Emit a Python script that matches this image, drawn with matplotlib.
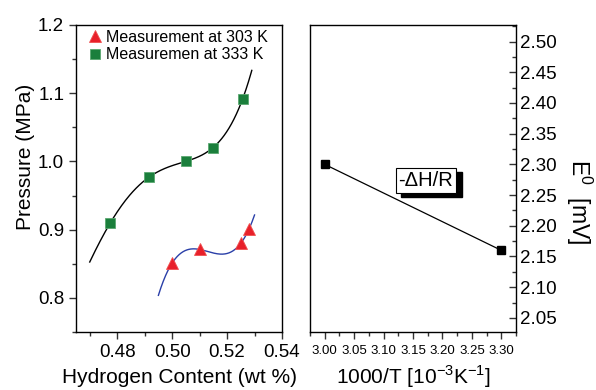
import numpy as np
import matplotlib
matplotlib.use('Agg')
import matplotlib.pyplot as plt
from matplotlib.ticker import MultipleLocator, FormatStrFormatter

plt.rcParams['font.family'] = ['Liberation Sans', 'DejaVu Sans']
plt.rcParams['mathtext.fontset'] = 'custom'
plt.rcParams['mathtext.rm'] = 'Liberation Sans'

# Isotermas (pressao x teor de hidrogenio)
h_303 = [0.500, 0.510, 0.525, 0.528]
p_303 = [0.851, 0.871, 0.880, 0.901]
h_333 = [0.4775, 0.4916, 0.5049, 0.5148, 0.5257]
p_333 = [0.910, 0.977, 1.000, 1.020, 1.092]

# Faixas e graus dos ajustes polinomiais
faixa_303 = (0.495, 0.530)
faixa_333 = (0.470, 0.529)
grau_303 = 3
grau_333 = 4

# Potencial E0 x 1000/T
inv_t = [3.00, 3.30]
e0 = [2.300, 2.160]

fig = plt.figure(figsize=(5.96, 3.90), dpi=100)
ax1 = fig.add_axes([76 / 596, 58 / 390, 206 / 596, 307 / 390])
ax2 = fig.add_axes([310 / 596, 58 / 390, 206 / 596, 307 / 390])

# --- grafico da esquerda ---
for hx, py, faixa, grau, cor in [(h_333, p_333, faixa_333, grau_333, 'black'),
                                 (h_303, p_303, faixa_303, grau_303, '#2a3fa8')]:
    coef = np.polyfit(hx, py, grau)
    xs = np.linspace(faixa[0], faixa[1], 200)
    ax1.plot(xs, np.polyval(coef, xs), color=cor, lw=1.0, zorder=2)

ax1.plot(h_303, p_303, '^', color='#e8202a', ms=8.5, mec='#f05050', mew=0.6,
         ls='none', label='Measurement at 303 K', zorder=3)
ax1.plot(h_333, p_333, 's', color='#1b7f3c', ms=6.5, mec='#5aa870', mew=0.6,
         ls='none', label='Measuremen at 333 K', zorder=3)

ax1.set_xlim(0.465, 0.54)
ax1.set_ylim(0.75, 1.2)
ax1.xaxis.set_major_locator(MultipleLocator(0.02))
ax1.xaxis.set_minor_locator(MultipleLocator(0.01))
ax1.yaxis.set_major_locator(MultipleLocator(0.1))
ax1.yaxis.set_minor_locator(MultipleLocator(0.05))
ax1.xaxis.set_major_formatter(FormatStrFormatter('%.2f'))
ax1.yaxis.set_major_formatter(FormatStrFormatter('%.1f'))
ax1.tick_params(which='both', direction='out', top=False, right=False,
                labelsize=13.5, color='#333333')
ax1.tick_params(which='major', length=5, width=1)
ax1.tick_params(which='minor', length=3, width=1)
ax1.set_xlabel('Hydrogen Content (wt %)', fontsize=15, labelpad=5)
ax1.set_ylabel('Pressure (MPa)', fontsize=15)
ax1.yaxis.set_label_coords(-0.2, 0.57)
ax1.legend(loc='upper left', frameon=False, fontsize=11.5, handletextpad=0.1,
           handlelength=1.2, borderaxespad=0.2, labelspacing=0.15,
           bbox_to_anchor=(0.0, 1.015))

# --- grafico da direita ---
ax2.plot(inv_t, e0, color='black', lw=0.9, marker='s', ms=5.5)
ax2.set_xlim(2.975, 3.325)
ax2.set_ylim(2.027, 2.527)
ax2.xaxis.set_major_locator(MultipleLocator(0.05))
ax2.xaxis.set_minor_locator(MultipleLocator(0.025))
ax2.yaxis.set_major_locator(MultipleLocator(0.05))
ax2.yaxis.set_minor_locator(MultipleLocator(0.025))
ax2.xaxis.set_major_formatter(FormatStrFormatter('%.2f'))
ax2.yaxis.set_major_formatter(FormatStrFormatter('%.2f'))
ax2.yaxis.tick_right()
ax2.yaxis.set_label_position('right')
ax2.tick_params(axis='x', which='both', direction='out', labelsize=9.5,
                color='#333333', pad=4)
ax2.tick_params(axis='y', which='both', direction='in', left=False,
                right=True, labelsize=13.5, color='#333333', pad=3)
ax2.tick_params(which='major', length=5, width=1)
ax2.tick_params(which='minor', length=3, width=1)
ax2.set_xlabel(r'1000/T [10$^{-3}$K$^{-1}$]', fontsize=15, labelpad=5)
ax2.set_ylabel(r'E$^0$  [mV]', fontsize=16.5, rotation=-90)
ax2.yaxis.set_label_coords(1.379, 0.425)

# rotulo com sombra
xt, yt = 3.172, 2.273
ax2.annotate('-ΔH/R', (xt, yt), xytext=(4, -2.5), textcoords='offset points',
             ha='center', va='center', fontsize=14.5, color='black',
             bbox=dict(boxstyle='square,pad=0.15', fc='black', ec='black'))
ax2.text(xt, yt, '-ΔH/R', ha='center', va='center', fontsize=14.5,
         bbox=dict(boxstyle='square,pad=0.15', fc='white', ec='black', lw=0.8))

for ax in (ax1, ax2):
    for s in ax.spines.values():
        s.set_linewidth(1.0)

fig.savefig('out.png', dpi=100)
